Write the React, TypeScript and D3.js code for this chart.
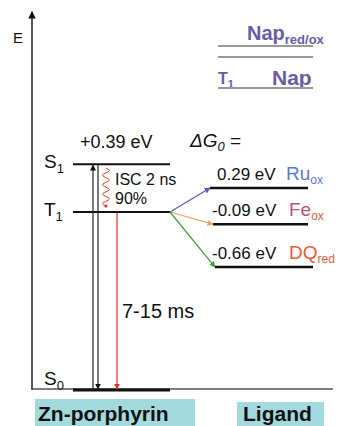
import React from "react";
import * as d3 from "d3";

// Zn-porphyrin states (plotted level, arbitrary units)
const stateNames = ["S0", "T1", "S1"];
const stateLevels = [0, 1.6, 2.03];

// ligand acceptor states
const ligandNames = ["Ru", "Fe", "DQ"];
const ligandSubs = ["ox", "ox", "red"];
const ligandDG = ["0.29 eV", "-0.09 eV", "-0.66 eV"];
const ligandLevels = [1.815, 1.49, 1.105];
const ligandColors = ["#5a78c8", "#b8507a", "#e85a30"];
const arrowColors = ["#5a5ac0", "#f0a050", "#3a9a3a"];

const gapLabel = "+0.39 eV";
const iscLabels = ["ISC 2 ns", "90%"];
const decayLabel = "7-15 ms";
const boxLabels = ["Zn-porphyrin", "Ligand"];

const W = 341;
const H = 426;
const font = "'Liberation Sans', Arial, sans-serif";

export default function App() {
  const y = d3.scaleLinear().domain([0, 1.6]).range([390, 212]);
  const axisX = 32;
  const axisTop = y(3.4);
  const zn = { x0: 73, x1: 170 };
  const lig = { x0: [210, 213, 215], x1: [308, 308, 313] };

  const yS0 = y(stateLevels[0]);
  const yT1 = y(stateLevels[1]);
  const yS1 = y(stateLevels[2]);

  // wavy ISC line from S1 to T1
  const waveTop = yS1 + 4;
  const waveBot = yT1 - 6;
  const wavePts: [number, number][] = d3.range(0, 1.0001, 0.02).map((t) => [
    106 + 3.5 * Math.sin(t * Math.PI * 8),
    waveTop + t * (waveBot - waveTop),
  ]);
  const wave = d3.line().curve(d3.curveBasis)(wavePts) || "";

  const markers = [
    { id: "blk", c: "#111" },
    { id: "red", c: "#e03020" },
    ...arrowColors.map((c, i) => ({ id: "a" + i, c })),
  ];

  return (
    <svg width={W} height={H} style={{ position: "absolute", left: 0, top: 0, background: "#fff" }} fontFamily={font}>
      <defs>
        {markers.map((m) => (
          <marker key={m.id} id={m.id} viewBox="0 0 10 10" refX="9" refY="5" markerWidth="5" markerHeight="5" orient="auto">
            <path d="M0,0 L10,5 L0,10 z" fill={m.c} />
          </marker>
        ))}
      </defs>

      {/* energy axis */}
      <line x1={axisX} x2={axisX} y1={yS0} y2={axisTop} stroke="#222" strokeWidth={1.5} markerEnd="url(#blk)" />
      <line x1={axisX} x2={333} y1={yS0 - 1} y2={yS0 - 1} stroke="#555" strokeWidth={1.3} />
      <text x={13} y={43} fontSize={15} fill="#111">E</text>

      {/* legend top right */}
      <text x={247} y={40} fontSize={20} fontWeight="bold" fill="#6a5aa8">
        Nap<tspan fontSize={13} dy={4}>red/ox</tspan>
      </text>
      <line x1={218} x2={313} y1={46} y2={46} stroke="#9a9a9a" strokeWidth={2} />
      <line x1={218} x2={313} y1={57} y2={57} stroke="#9a9a9a" strokeWidth={2} />
      <text x={218} y={84} fontSize={16} fontWeight="bold" fill="#6a5aa8">
        T<tspan fontSize={11} dy={4}>1</tspan>
      </text>
      <text x={272} y={85} fontSize={21} fontWeight="bold" fill="#6a5aa8">Nap</text>
      <line x1={218} x2={313} y1={88} y2={88} stroke="#9a9a9a" strokeWidth={2} />

      {/* porphyrin levels */}
      {stateNames.map((n, i) => (
        <g key={n}>
          <line x1={zn.x0} x2={zn.x1} y1={y(stateLevels[i])} y2={y(stateLevels[i])} stroke="#111" strokeWidth={i === 0 ? 3 : 2} />
          <text x={44} y={y(stateLevels[i]) + (i === 0 ? -5 : 4)} fontSize={19} fill="#111">
            {n[0]}
            <tspan fontSize={13} dy={5}>{n[1]}</tspan>
          </text>
        </g>
      ))}
      <text x={80} y={yS1 - 16} fontSize={18} fill="#111">{gapLabel}</text>

      {/* absorption / fluorescence */}
      <line x1={93} x2={93} y1={yS0} y2={yS1 + 1} stroke="#222" strokeWidth={1.2} markerEnd="url(#blk)" />
      <line x1={98} x2={98} y1={yS1} y2={yS0 - 1} stroke="#222" strokeWidth={1.2} markerEnd="url(#blk)" />

      {/* ISC */}
      <path d={wave} fill="none" stroke="#e03020" strokeWidth={1} />
      <circle cx={wavePts[wavePts.length - 1][0]} cy={waveBot} r={1.6} fill="#e03020" />
      <text x={115} y={185} fontSize={16} fill="#111">{iscLabels[0]}</text>
      <text x={115} y={204} fontSize={16} fill="#111">{iscLabels[1]}</text>

      {/* phosphorescence */}
      <line x1={117} x2={117} y1={yT1 + 1} y2={yS0 - 1} stroke="#e03020" strokeWidth={1.2} markerEnd="url(#red)" />
      <text x={122} y={318} fontSize={20} fill="#111">{decayLabel}</text>

      {/* ligand levels */}
      <text x={190} y={147} fontSize={19} fill="#111">
        <tspan fontStyle="italic">ΔG</tspan>
        <tspan fontSize={13} dy={4} fontStyle="italic">0</tspan>
        <tspan dy={-4}> =</tspan>
      </text>
      {ligandNames.map((n, i) => {
        const ly = y(ligandLevels[i]);
        return (
          <g key={n}>
            <line x1={zn.x1} y1={yT1} x2={lig.x0[i]} y2={ly} stroke={arrowColors[i]} strokeWidth={1.2} markerEnd={`url(#a${i})`} />
            <line x1={lig.x0[i]} x2={lig.x1[i]} y1={ly} y2={ly} stroke="#111" strokeWidth={2.5} />
            <text x={i === 0 ? 217 : 212} y={ly - 8} fontSize={17} fill="#111">{ligandDG[i]}</text>
            <text x={i === 0 ? 286 : 289} y={ly - 8} fontSize={19} fill={ligandColors[i]}>
              {n}
              <tspan fontSize={12} dy={4} fill={i === 1 ? "#d8603a" : ligandColors[i]}>{ligandSubs[i]}</tspan>
            </text>
          </g>
        );
      })}

      {/* column labels */}
      <rect x={35} y={399} width={160} height={27} fill="#a3dadd" />
      <text x={38} y={421} fontSize={21} fontWeight="bold" fill="#111">{boxLabels[0]}</text>
      <rect x={237} y={402} width={87} height={24} fill="#a3dadd" />
      <text x={243} y={421} fontSize={21} fontWeight="bold" fill="#111">{boxLabels[1]}</text>
    </svg>
  );
}
